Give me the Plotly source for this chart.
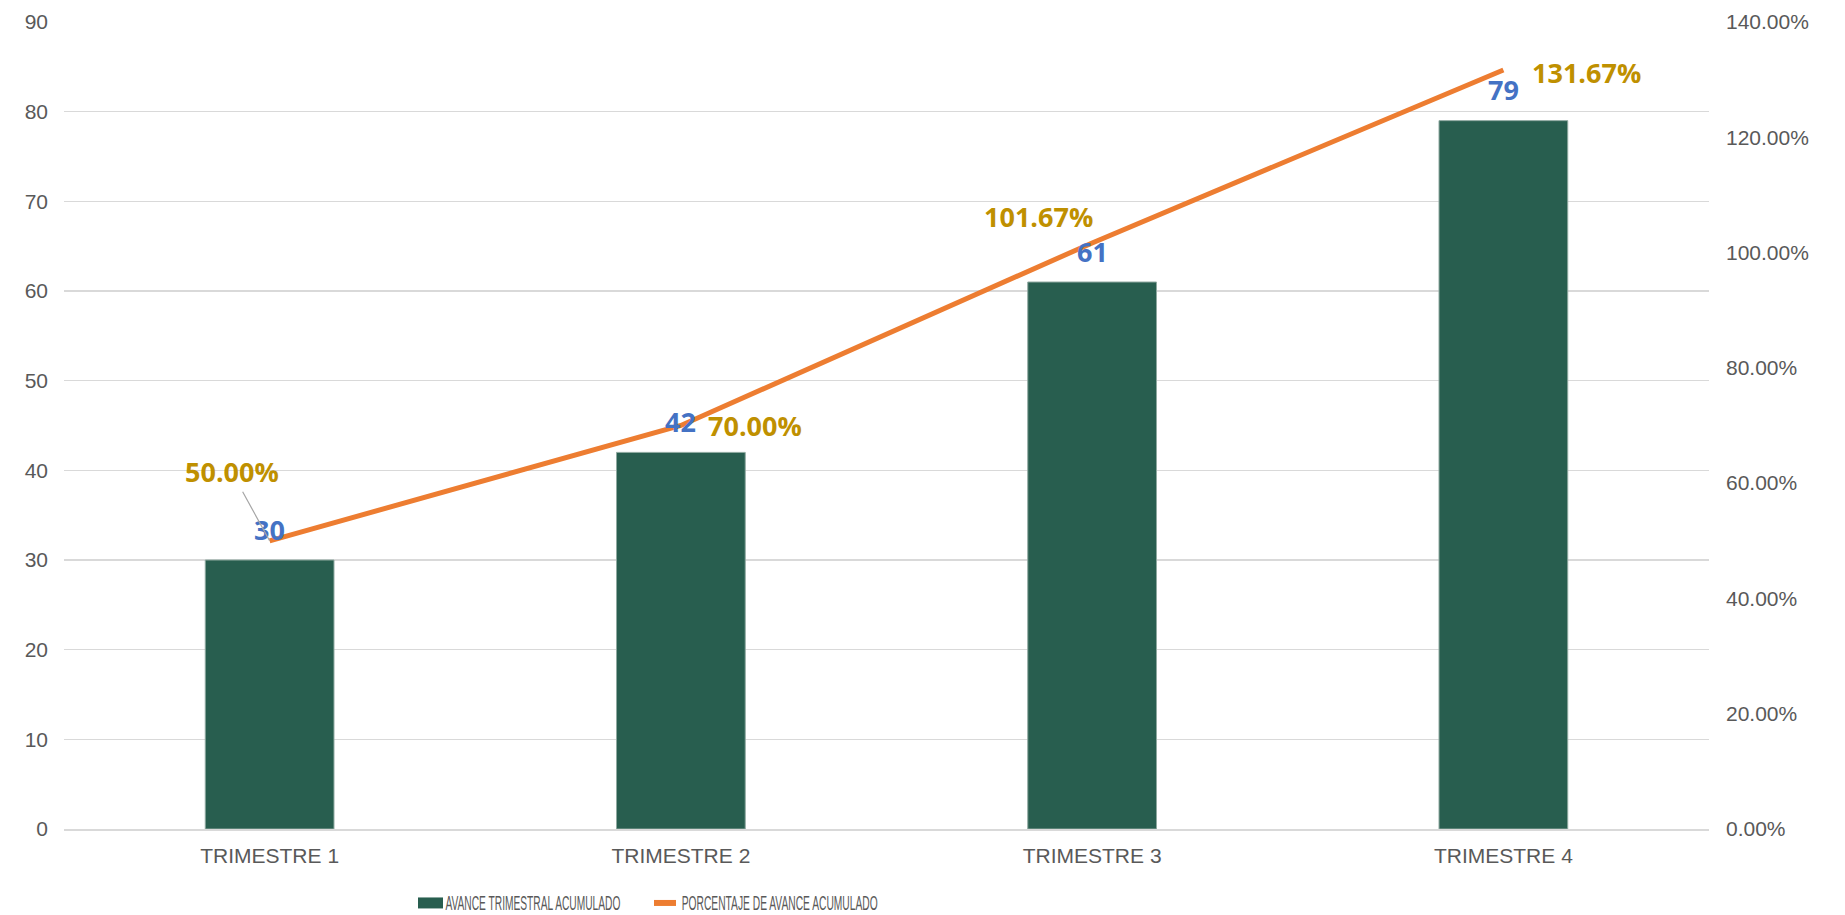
import plotly.graph_objects as go

categories = ["TRIMESTRE 1", "TRIMESTRE 2", "TRIMESTRE 3", "TRIMESTRE 4"]
avance = [30, 42, 61, 79]
porcentaje = [0.50, 0.70, 1.0167, 1.3167]
porcentaje_labels = ["50.00%", "70.00%", "101.67%", "131.67%"]
left_ticks = [0, 10, 20, 30, 40, 50, 60, 70, 80, 90]
right_ticks = [0, 0.2, 0.4, 0.6, 0.8, 1.0, 1.2, 1.4]
series_names = ["AVANCE TRIMESTRAL ACUMULADO", "PORCENTAJE DE AVANCE ACUMULADO"]

BAR_COLOR = "#285E4F"
LINE_COLOR = "#ED7D31"
BLUE = "#4472C4"
GOLD = "#BF9000"
GRAY = "#595959"

fig = go.Figure()
fig.add_trace(go.Bar(
    x=categories, y=avance, name=series_names[0],
    marker=dict(color=BAR_COLOR, line=dict(color="#8FA9A0", width=1)),
    width=0.313, yaxis="y",
))
fig.add_trace(go.Scatter(
    x=categories, y=porcentaje, name=series_names[1],
    mode="lines", line=dict(color=LINE_COLOR, width=5), yaxis="y2",
))

label_font = dict(family="Open Sans, Noto Sans, sans-serif", size=27, weight="bold")

annotations = []
for c, v in zip(categories, avance):
    annotations.append(dict(
        x=c, y=v, xref="x", yref="y", text=str(v), showarrow=False,
        yanchor="middle", xanchor="center", yshift=31,
        font=dict(color=BLUE, **label_font),
    ))

# offsets (dx, dy in pixels) for percentage labels
pct_offsets = [(-38, 69), (74, 0), (-54, 26), (83, -2)]
for i, (c, v, t) in enumerate(zip(categories, porcentaje, porcentaje_labels)):
    dx, dy = pct_offsets[i]
    if i == 0:
        annotations.append(dict(
            x=c, y=v, xref="x", yref="y2", text=t, showarrow=True,
            arrowhead=0, arrowwidth=1.2, arrowcolor="#A6A6A6",
            ax=dx, ay=-dy, standoff=0,
            font=dict(color=GOLD, **label_font),
        ))
    else:
        annotations.append(dict(
            x=c, y=v, xref="x", yref="y2", text=t, showarrow=False,
            xshift=dx, yshift=dy, xanchor="center", yanchor="middle",
            font=dict(color=GOLD, **label_font),
        ))

# manual legend (paper coordinates of plot area: x 64..1709 px, y 22..829.5 px)
def px_x(p):
    return (p - 64) / 1645.0

def px_y(p):
    return (829.5 - p) / 807.5

legend_font = dict(family="Liberation Sans, Arial, sans-serif", size=21, color=GRAY)
shapes = [
    dict(type="rect", xref="paper", yref="paper",
         x0=px_x(418), x1=px_x(443), y0=px_y(909), y1=px_y(898),
         fillcolor=BAR_COLOR, line=dict(width=0)),
    dict(type="line", xref="paper", yref="paper",
         x0=px_x(654), x1=px_x(676), y0=px_y(903.5), y1=px_y(903.5),
         line=dict(color=LINE_COLOR, width=6)),
]
annotations.append(dict(xref="paper", yref="paper", x=px_x(532.5), y=px_y(903.5),
                        xanchor="center", yanchor="middle", showarrow=False,
                        text=series_names[0], font=legend_font))
annotations.append(dict(xref="paper", yref="paper", x=px_x(779), y=px_y(903.5),
                        xanchor="center", yanchor="middle", showarrow=False,
                        text=series_names[1], font=legend_font))

tick_font = dict(family="Liberation Sans, Arial, sans-serif", size=21, color=GRAY)

fig.update_layout(
    width=1845, height=915,
    margin=dict(l=64, r=136, t=22, b=85.5, autoexpand=False),
    plot_bgcolor="white", paper_bgcolor="white",
    bargap=0,
    showlegend=False,
    hovermode=False,
    xaxis=dict(
        type="category", showgrid=False, showline=True, automargin=False,
        linecolor="#D9D9D9", linewidth=1.5, ticks="",
        tickfont=tick_font, ticklabelstandoff=7,
    ),
    yaxis=dict(
        range=[0, 90], tickvals=left_ticks, showgrid=True, automargin=False,
        gridcolor="#D9D9D9", gridwidth=1.5, zeroline=False, ticks="",
        tickfont=tick_font, ticklabelstandoff=15,
    ),
    yaxis2=dict(
        range=[0, 1.4], tickvals=right_ticks, tickformat=".2%", automargin=False,
        overlaying="y", side="right", showgrid=False, zeroline=False, ticks="",
        tickfont=tick_font, ticklabelstandoff=16,
    ),
    shapes=shapes,
    annotations=annotations,
)

post_script = """
document.body.style.margin = '0';
document.body.style.overflow = 'hidden';
var gd = document.getElementById('{plot_id}');
var targets = {'AVANCE TRIMESTRAL ACUMULADO': 175, 'PORCENTAJE DE AVANCE ACUMULADO': 196};
function squeezeLegend() {
  var nodes = gd.querySelectorAll('text.annotation-text');
  nodes.forEach(function (t) {
    var s = (t.textContent || '').trim();
    var len = targets[s];
    if (len) {
      t.setAttribute('textLength', String(len));
      t.setAttribute('lengthAdjust', 'spacingAndGlyphs');
      var tx = parseFloat(t.getAttribute('x'));
      var rect = t.parentNode.querySelector('rect.bg');
      if (rect && !isNaN(tx)) {
        rect.setAttribute('x', String(tx - len / 2 - 1));
        rect.setAttribute('width', String(len + 2));
      }
    }
  });
}
squeezeLegend();
if (gd.on) { gd.on('plotly_afterplot', squeezeLegend); }
"""

fig.write_html("out.html", post_script=post_script,
               config={"displayModeBar": False, "staticPlot": True})
